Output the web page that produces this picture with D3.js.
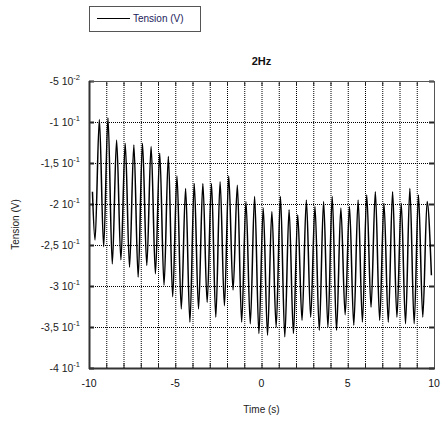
<!DOCTYPE html>
<html>
<head>
<meta charset="utf-8">
<script src="https://cdn.jsdelivr.net/npm/d3@7"></script>
<style>
  body { margin: 0; background: #fff; }
  text { font-family: "Liberation Sans", Arial, sans-serif; }
</style>
</head>
<body>
<svg id="chart"></svg>
<script>
// time of each sampled extremum (s) and measured tension (V)
const times = [
  -9.8, -9.65, -9.4, -9.15, -8.9, -8.65, -8.4, -8.15, -7.9, -7.65,
  -7.4, -7.15, -6.9, -6.65, -6.4, -6.15, -5.9, -5.65, -5.4, -5.15,
  -4.9, -4.65, -4.4, -4.15, -3.9, -3.65, -3.4, -3.15, -2.9, -2.65,
  -2.4, -2.15, -1.9, -1.65, -1.4, -1.15, -0.9, -0.65, -0.4, -0.15,
  0.1, 0.35, 0.6, 0.85, 1.1, 1.35, 1.6, 1.85, 2.1, 2.35,
  2.6, 2.85, 3.1, 3.35, 3.6, 3.85, 4.1, 4.35, 4.6, 4.85,
  5.1, 5.35, 5.6, 5.85, 6.1, 6.35, 6.6, 6.85, 7.1, 7.35,
  7.6, 7.85, 8.1, 8.35, 8.6, 8.85, 9.1, 9.35, 9.6, 9.85
];
const tension = [
  -0.185, -0.244, -0.097, -0.252, -0.095, -0.273, -0.122, -0.268, -0.126, -0.277,
  -0.128, -0.289, -0.126, -0.275, -0.130, -0.285, -0.138, -0.299, -0.142, -0.313,
  -0.166, -0.328, -0.181, -0.344, -0.175, -0.328, -0.175, -0.320, -0.175, -0.338,
  -0.173, -0.324, -0.166, -0.305, -0.177, -0.344, -0.197, -0.346, -0.191, -0.358,
  -0.205, -0.360, -0.209, -0.350, -0.191, -0.362, -0.207, -0.358, -0.213, -0.342,
  -0.195, -0.338, -0.203, -0.354, -0.197, -0.350, -0.191, -0.354, -0.205, -0.335,
  -0.203, -0.348, -0.195, -0.344, -0.189, -0.326, -0.185, -0.342, -0.199, -0.344,
  -0.185, -0.338, -0.199, -0.346, -0.181, -0.346, -0.189, -0.338, -0.197, -0.287
];

const xTicks = [-10, -5, 0, 5, 10];
const xGrid = [-9, -8, -7, -6, -5, -4, -3, -2, -1, 0, 1, 2, 3, 4, 5, 6, 7, 8, 9];
const yTicks = [-0.05, -0.1, -0.15, -0.2, -0.25, -0.3, -0.35, -0.4];
const yMantissa = ['-5', '-1', '-1,5', '-2', '-2,5', '-3', '-3,5', '-4'];
const yExponent = ['-2', '-1', '-1', '-1', '-1', '-1', '-1', '-1'];

const width = 446, height = 424;
const margin = {top: 81, right: 12, bottom: 56, left: 89};
const innerW = width - margin.left - margin.right;
const innerH = height - margin.top - margin.bottom;

const svg = d3.select('#chart')
  .attr('width', width)
  .attr('height', height);

const chart = svg.append('g')
  .attr('transform', `translate(${margin.left},${margin.top})`);

const x = d3.scaleLinear().domain([-10, 10]).range([0, innerW]);
const y = d3.scaleLinear().domain([-0.4, -0.05]).range([innerH, 0]);

// dotted grid
chart.append('g')
  .selectAll('line')
  .data(xGrid)
  .join('line')
    .attr('x1', d => x(d) + 0.5).attr('x2', d => x(d) + 0.5)
    .attr('y1', 0).attr('y2', innerH)
    .attr('stroke', '#000')
    .attr('stroke-dasharray', '1,1');

chart.append('g')
  .selectAll('line')
  .data(yTicks.slice(1, -1))
  .join('line')
    .attr('x1', 0).attr('x2', innerW)
    .attr('y1', d => y(d) + 0.5).attr('y2', d => y(d) + 0.5)
    .attr('stroke', '#000')
    .attr('stroke-dasharray', '1,1');

// inner ticks on all four sides
const tickLen = 5;
const allX = [-10].concat(xGrid, [10]);
chart.append('g')
  .selectAll('line')
  .data(allX)
  .join('line')
    .attr('x1', d => x(d) + 0.5).attr('x2', d => x(d) + 0.5)
    .attr('y1', innerH).attr('y2', innerH - tickLen)
    .attr('stroke', '#222');
chart.append('g')
  .selectAll('line')
  .data(allX)
  .join('line')
    .attr('x1', d => x(d) + 0.5).attr('x2', d => x(d) + 0.5)
    .attr('y1', 0).attr('y2', tickLen)
    .attr('stroke', '#222');
chart.append('g')
  .selectAll('line')
  .data(yTicks)
  .join('line')
    .attr('x1', 0).attr('x2', tickLen)
    .attr('y1', d => y(d) + 0.5).attr('y2', d => y(d) + 0.5)
    .attr('stroke', '#222').attr('stroke-width', 2);
chart.append('g')
  .selectAll('line')
  .data(yTicks)
  .join('line')
    .attr('x1', innerW - tickLen).attr('x2', innerW)
    .attr('y1', d => y(d) + 0.5).attr('y2', d => y(d) + 0.5)
    .attr('stroke', '#222').attr('stroke-width', 2);

// the signal
const line = d3.line()
  .x(i => x(times[i]))
  .y(i => y(tension[i]))
  .curve(d3.curveMonotoneX);

chart.append('path')
  .datum(d3.range(times.length))
  .attr('d', line)
  .attr('fill', 'none')
  .attr('stroke', '#000')
  .attr('stroke-width', 1.5);

// frame
chart.append('rect')
  .attr('x', 0.5).attr('y', 0.5)
  .attr('width', innerW).attr('height', innerH)
  .attr('fill', 'none')
  .attr('stroke', '#555');
chart.append('line')
  .attr('x1', 0.5).attr('x2', 0.5).attr('y1', 0).attr('y2', innerH + 1)
  .attr('stroke', '#333').attr('stroke-width', 2);
chart.append('line')
  .attr('x1', 0).attr('x2', innerW + 1).attr('y1', innerH + 0.5).attr('y2', innerH + 0.5)
  .attr('stroke', '#333').attr('stroke-width', 2);

// x tick labels
chart.append('g')
  .selectAll('text')
  .data(xTicks)
  .join('text')
    .attr('x', d => x(d))
    .attr('y', innerH + 19)
    .attr('text-anchor', 'middle')
    .attr('font-size', 10.5)
    .attr('fill', '#111')
    .text(d => d);

// y tick labels with exponent
const yLab = chart.append('g')
  .selectAll('text')
  .data(yTicks)
  .join('text')
    .attr('x', -9)
    .attr('y', d => y(d) + 4)
    .attr('text-anchor', 'end')
    .attr('font-size', 10.5)
    .attr('fill', '#222');
yLab.append('tspan').text((d, i) => yMantissa[i] + ' 10');
yLab.append('tspan')
  .attr('dy', -5)
  .attr('font-size', 7.5)
  .text((d, i) => yExponent[i]);

// axis titles
chart.append('text')
  .attr('x', innerW / 2)
  .attr('y', innerH + 45)
  .attr('text-anchor', 'middle')
  .attr('font-size', 10)
  .attr('fill', '#222')
  .text('Time (s)');

chart.append('text')
  .attr('transform', `translate(${-70},${innerH / 2}) rotate(-90)`)
  .attr('text-anchor', 'middle')
  .attr('font-size', 10)
  .attr('fill', '#222')
  .text('Tension (V)');

// title
chart.append('text')
  .attr('x', innerW / 2)
  .attr('y', -16)
  .attr('text-anchor', 'middle')
  .attr('font-size', 11)
  .attr('font-weight', 'bold')
  .attr('fill', '#111')
  .text('2Hz');

// legend
const legend = svg.append('g').attr('transform', 'translate(89,6)');
legend.append('rect')
  .attr('x', 0.5).attr('y', 0.5)
  .attr('width', 111).attr('height', 25)
  .attr('fill', '#fff')
  .attr('stroke', '#555');
legend.append('line')
  .attr('x1', 8).attr('x2', 41)
  .attr('y1', 12.5).attr('y2', 12.5)
  .attr('stroke', '#000');
legend.append('text')
  .attr('x', 44)
  .attr('y', 16)
  .attr('font-size', 10)
  .attr('fill', '#1c1c5a')
  .text('Tension (V)');
</script>
</body>
</html>
